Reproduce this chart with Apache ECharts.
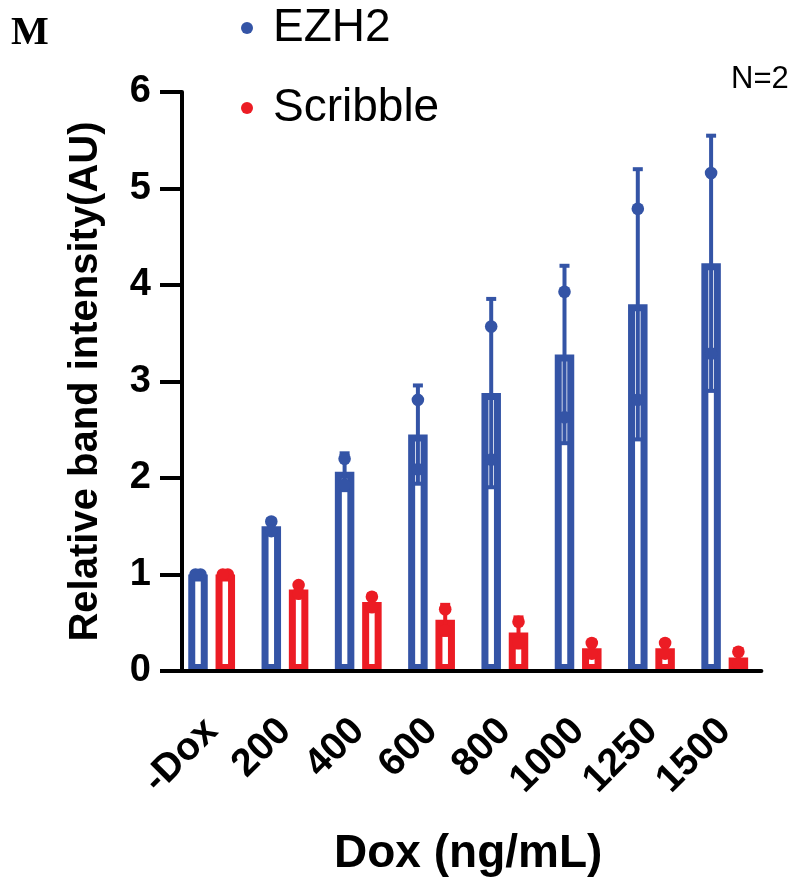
<!DOCTYPE html>
<html>
<head>
<meta charset="utf-8">
<script src="https://cdn.jsdelivr.net/npm/echarts@6/dist/echarts.min.js"></script>
<style>
  html, body { margin: 0; padding: 0; background: #fff; }
  #chart { width: 796px; height: 885px; }
</style>
</head>
<body>
<div id="chart"></div>
<script>
// Dox dose categories
const categories = ['-Dox', '200', '400', '600', '800', '1000', '1250', '1500'];

// Two replicates (N=2) of relative band intensity per dose
const ezh2Rep1 = [1.00, 1.55, 2.20, 2.81, 3.57, 3.93, 4.79, 5.16];
const ezh2Rep2 = [1.00, 1.45, 1.93, 2.09, 2.19, 2.63, 2.81, 3.29];
const scribbleRep1 = [1.00, 0.89, 0.77, 0.64, 0.51, 0.29, 0.29, 0.20];
const scribbleRep2 = [1.00, 0.80, 0.66, 0.42, 0.29, 0.18, 0.18, 0.08];

// y-axis ticks
const yTicks = [0, 1, 2, 3, 4, 5, 6];

const BLUE = '#3454A6';
const RED = '#EC1C24';
const FONT = '"Liberation Sans", Arial, Helvetica, sans-serif';

const BAR_W = 19.5;
const BAR_GAP = 0.4;
const HALF_STEP = (BAR_W + BAR_W * BAR_GAP) / 2;

function mean(a, b) { return (a + b) / 2; }
function sd(a, b) { return Math.abs(a - b) / Math.SQRT2; }

function stats(r1, r2) {
  return r1.map((v, i) => {
    const m = mean(v, r2[i]);
    const s = sd(v, r2[i]);
    return { m, lo: m - s, hi: m + s };
  });
}

const ezh2Stats = stats(ezh2Rep1, ezh2Rep2);
const scribbleStats = stats(scribbleRep1, scribbleRep2);

// mean ± SD whiskers, centred on each bar
function errorSeries(name, st, color, shift) {
  return {
    type: 'custom',
    name: name,
    z: 4,
    silent: true,
    data: st.map((s, i) => [i, s.lo, s.hi]),
    renderItem: function (params, api) {
      const idx = api.value(0);
      const lo = api.coord([idx, api.value(1)]);
      const hi = api.coord([idx, api.value(2)]);
      const x = lo[0] + shift;
      const cap = 5;
      const style = { stroke: color, lineWidth: 4, fill: null };
      return {
        type: 'group',
        children: [
          { type: 'line', shape: { x1: x, y1: lo[1], x2: x, y2: hi[1] }, style: style },
          { type: 'line', shape: { x1: x - cap, y1: hi[1], x2: x + cap, y2: hi[1] }, style: style },
          { type: 'line', shape: { x1: x - cap, y1: lo[1], x2: x + cap, y2: lo[1] }, style: style }
        ]
      };
    }
  };
}

// individual replicate dots
function pointSeries(name, r1, r2, color, shift) {
  return {
    type: 'custom',
    name: name,
    z: 5,
    silent: true,
    data: r1.map((v, i) => [i, v, r2[i]]),
    renderItem: function (params, api) {
      const idx = api.value(0);
      const a = api.value(1), b = api.value(2);
      const jit = Math.abs(a - b) < 0.05 ? 2.5 : 0;
      const pa = api.coord([idx, a]);
      const pb = api.coord([idx, b]);
      return {
        type: 'group',
        children: [
          { type: 'circle', shape: { cx: pa[0] + shift + jit, cy: pa[1], r: 6.3 }, style: { fill: color } },
          { type: 'circle', shape: { cx: pb[0] + shift - jit, cy: pb[1], r: 6.3 }, style: { fill: color } }
        ]
      };
    }
  };
}

function barSeries(name, st, color) {
  return {
    type: 'bar',
    name: name,
    z: 2,
    barWidth: BAR_W,
    barGap: (BAR_GAP * 100) + '%',
    data: st.map(s => s.m),
    itemStyle: { color: '#ffffff', borderColor: color, borderWidth: 7 },
    emphasis: { disabled: true }
  };
}

const chart = echarts.init(document.getElementById('chart'), null, { renderer: 'canvas' });

chart.setOption({
  backgroundColor: '#ffffff',
  animation: false,
  grid: { left: 175, right: 34.6, top: 92, bottom: 214, containLabel: false },
  legend: {
    orient: 'vertical',
    left: 241,
    top: 5,
    padding: 0,
    itemGap: 34,
    itemWidth: 42,
    itemHeight: 12,
    selectedMode: false,
    textStyle: { fontFamily: FONT, fontSize: 46, color: '#000' },
    data: [
      { name: 'EZH2', icon: 'circle', itemStyle: { color: BLUE, borderWidth: 0 } },
      { name: 'Scribble', icon: 'circle', itemStyle: { color: RED, borderWidth: 0 } }
    ]
  },
  xAxis: {
    type: 'category',
    data: categories,
    z: 6,
    name: 'Dox (ng/mL)',
    nameLocation: 'middle',
    nameGap: 160,
    nameTextStyle: { fontFamily: FONT, fontSize: 46, fontWeight: 'bold', color: '#000' },
    axisLine: { lineStyle: { color: '#000', width: 4 } },
    axisTick: { alignWithLabel: true, length: 22, lineStyle: { color: '#000', width: 4 } },
    axisLabel: {
      rotate: 45,
      margin: 54,
      interval: 0,
      fontFamily: FONT,
      fontSize: 39,
      fontWeight: 'bold',
      color: '#000'
    },
    splitLine: { show: false }
  },
  yAxis: {
    type: 'value',
    min: yTicks[0],
    max: yTicks[yTicks.length - 1],
    interval: 1,
    offset: -7,
    z: 6,
    name: 'Relative band intensity(AU)',
    nameLocation: 'middle',
    nameGap: 76,
    nameTextStyle: { fontFamily: FONT, fontSize: 40, fontWeight: 'bold', color: '#000' },
    axisLine: { show: true, lineStyle: { color: '#000', width: 4 } },
    axisTick: { show: true, length: 22, lineStyle: { color: '#000', width: 4 } },
    axisLabel: {
      margin: 31,
      fontFamily: FONT,
      fontSize: 38,
      fontWeight: 'bold',
      color: '#000'
    },
    splitLine: { show: false }
  },
  series: [
    barSeries('EZH2', ezh2Stats, BLUE),
    barSeries('Scribble', scribbleStats, RED),
    errorSeries('EZH2 SD', ezh2Stats, BLUE, -HALF_STEP),
    errorSeries('Scribble SD', scribbleStats, RED, HALF_STEP),
    pointSeries('EZH2 points', ezh2Rep1, ezh2Rep2, BLUE, -HALF_STEP),
    pointSeries('Scribble points', scribbleRep1, scribbleRep2, RED, HALF_STEP)
  ],
  graphic: [
    {
      type: 'text',
      left: 11,
      top: 14,
      style: { text: 'M', font: 'bold 40px "Liberation Serif", "Times New Roman", serif', fill: '#000' }
    },
    {
      type: 'text',
      left: 731,
      top: 64,
      style: { text: 'N=2', font: '31px ' + FONT, fill: '#000' }
    }
  ]
});
</script>
</body>
</html>
